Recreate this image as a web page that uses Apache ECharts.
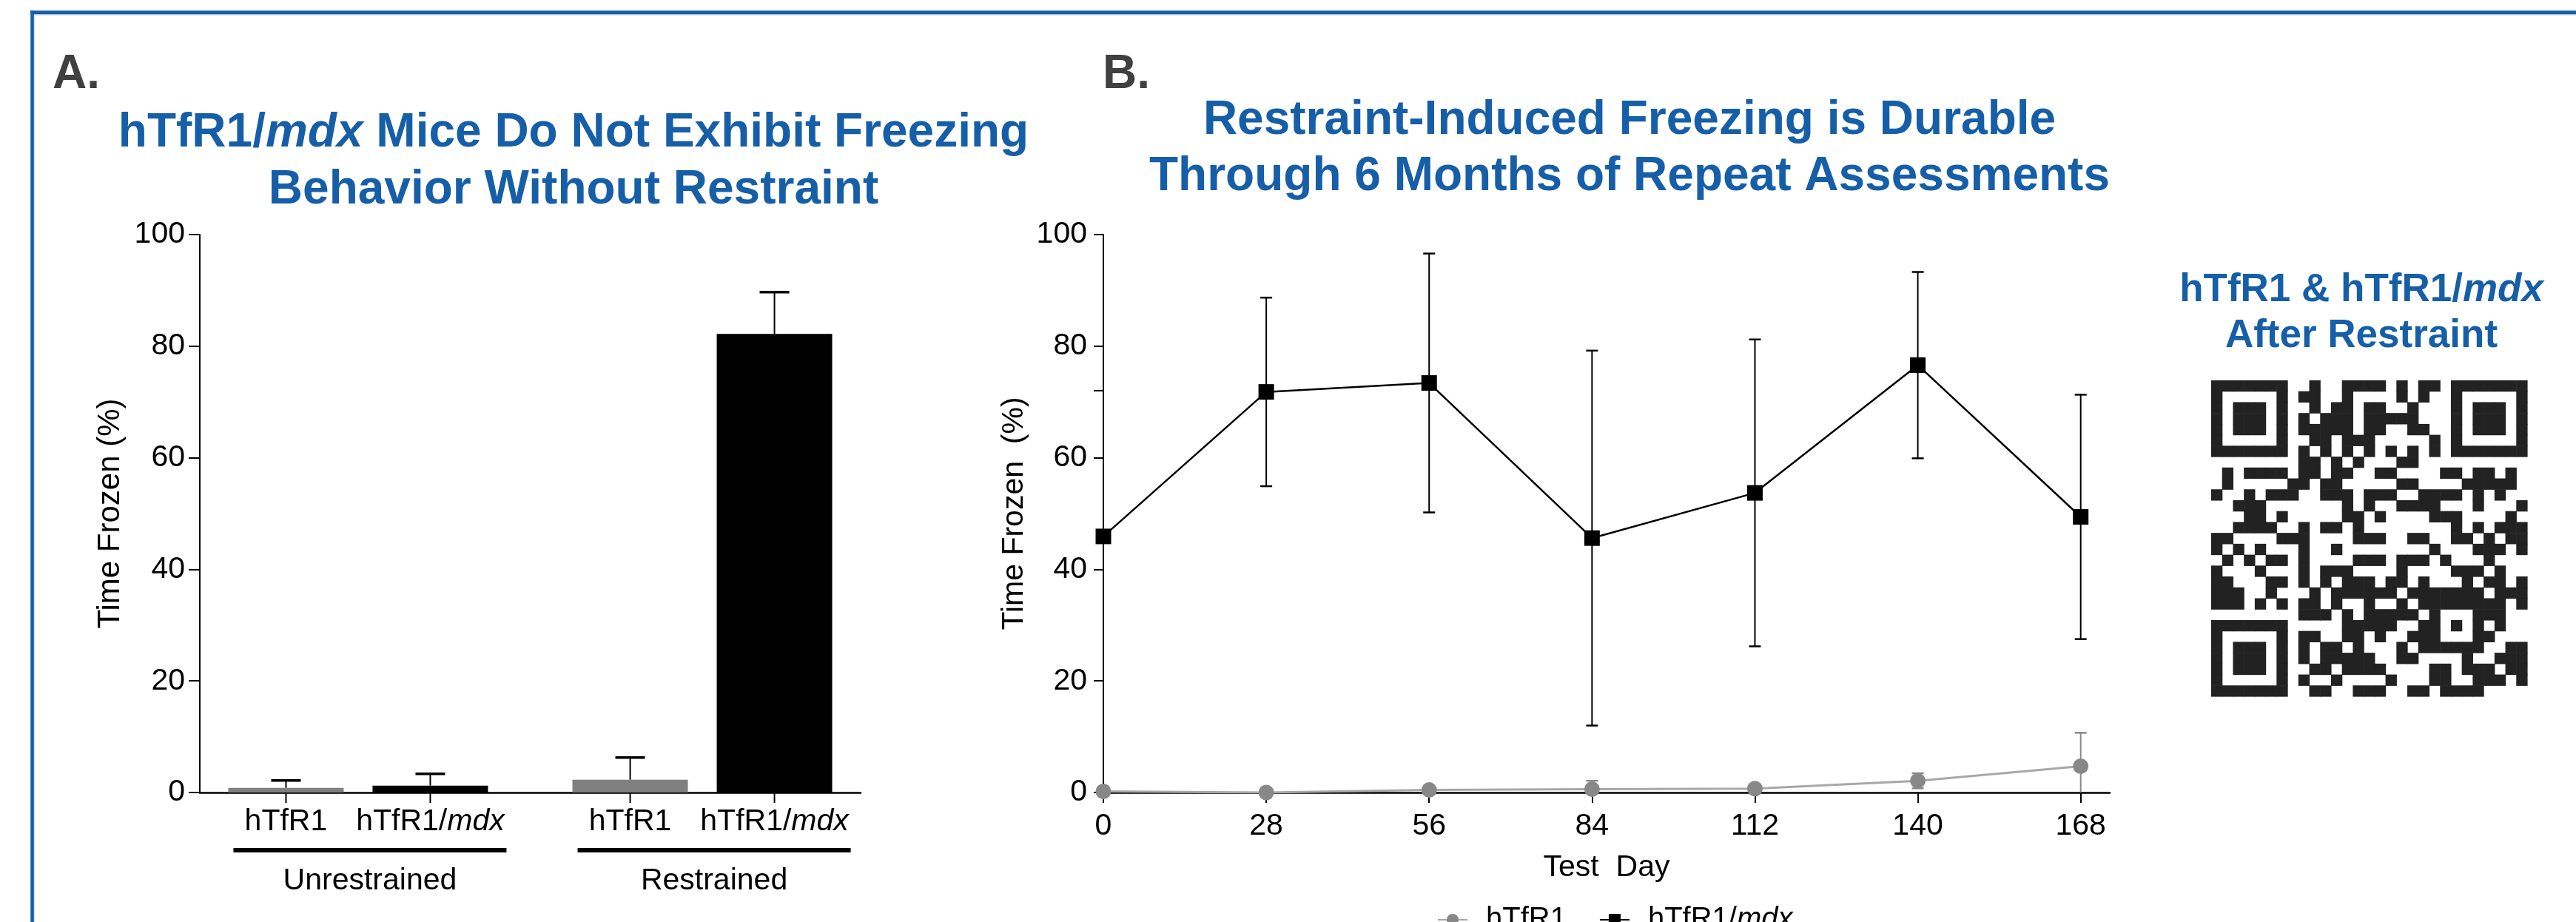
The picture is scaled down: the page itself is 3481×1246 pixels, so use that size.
<!DOCTYPE html>
<html><head><meta charset="utf-8">
<script src="https://cdn.jsdelivr.net/npm/echarts@6/dist/echarts.min.js"></script>
<style>html,body{margin:0;padding:0;background:#fff}#c{width:3481px;height:1246px}</style>
</head><body><div id="c"></div>
<script>
// ---------------- DATA ----------------
const groupCats = ['Unrestrained', 'Restrained'];
const barGenotypes = ['hTfR1', 'hTfR1/mdx'];
const barHTfR1Mean = [0.84, 2.3];
const barHTfR1Sd = [1.33, 3.98];
const barMdxMean = [1.24, 82.2];
const barMdxSd = [2.12, 7.5];

const testDays = [0, 28, 56, 84, 112, 140, 168];
const lineHTfR1Mean = [0.2, 0, 0.45, 0.6, 0.7, 2.1, 4.7];
const lineHTfR1Sd = [0, 0, 0, 1.5, 0, 1.35, 6.0];
const lineMdxMean = [45.9, 71.8, 73.4, 45.6, 53.7, 76.6, 49.4];
const lineMdxSd = [0, 16.9, 23.2, 33.6, 27.5, 16.7, 21.9];

const yTickLabels = [0, 20, 40, 60, 80, 100];
const yTickMarksB = [0, 20, 40, 60, 72, 80, 100];
const xTickLabelsB = [0, 28, 56, 84, 112, 140, 168];

const qrRows = [
'11111110010011110101101111111',
'10000010110010000101001000001',
'10111010010110110010001011101',
'10111010101110111110001011101',
'10111010111110110011001011101',
'10000010011011100000101000001',
'11111110101010101010101111111',
'00000000110101000110000000000',
'01011110110110011000011011010',
'01000001101100000110000111110',
'10010111001110111001111010100',
'00111000000010100111100010001',
'00011010000011010000111000010',
'00111100101101000000001010111',
'11000011100001110011001101011',
'10101000100100000000100011101',
'01010110100001110111010001000',
'10001000101110000100001110100',
'11000110101011101101000101101',
'11100100010111111011111110111',
'11101010110100100101111111101',
'00000000111010111110100011100',
'11111110000011111001101010100',
'10000010110011010011100011000',
'10111010101101000101111110011',
'10111010101111100110000100111',
'10111010011011110000110111011',
'10000010100100001000110011101',
'11111110011001110011011110000'
];

// ---------------- STYLE ----------------
const FONT = '"Liberation Sans", Arial, Helvetica, sans-serif';
const BLUE = '#165fa8';
const BAR_W = 156, BAR_GAP = 39;

// ---------------- BUILD ----------------
const barErrData = [];
groupCats.forEach((g, i) => {
  barErrData.push([i + 1, barHTfR1Mean[i], barHTfR1Sd[i], 0]);
  barErrData.push([i + 1, barMdxMean[i], barMdxSd[i], 1]);
});
const lineErrData = [];
testDays.forEach((d, i) => {
  lineErrData.push([d, lineHTfR1Mean[i], lineHTfR1Sd[i], 0]);
  lineErrData.push([d, lineMdxMean[i], lineMdxSd[i], 1]);
});
const qrData = [];
qrRows.forEach((row, r) => { for (let c = 0; c < row.length; c++) if (row[c] === '1') qrData.push([c, r]); });
const qrIdx = qrRows.map((_, i) => String(i));

function italicMdx(s) { return s.replace('mdx', '{i|mdx}'); }

function renderBarErr(params, api) {
  const x = api.value(0), m = api.value(1), sd = api.value(2), g = api.value(3);
  const off = (g === 0 ? -1 : 1) * (BAR_W + BAR_GAP) / 2;
  const base = api.coord([x, 0]), pm = api.coord([x, m]), pt = api.coord([x, m + sd]);
  const cx = pm[0] + off;
  return { type: 'group', children: [
    { type: 'line', shape: { x1: cx, y1: pm[1], x2: cx, y2: pt[1] }, style: { stroke: '#000', lineWidth: 2 } },
    { type: 'line', shape: { x1: cx - 20, y1: pt[1], x2: cx + 20, y2: pt[1] }, style: { stroke: '#000', lineWidth: 3.5 } },
    { type: 'line', shape: { x1: cx, y1: base[1], x2: cx, y2: base[1] + 14 }, style: { stroke: '#000', lineWidth: 2 } },
    { type: 'text', x: cx, y: base[1] + 19, style: {
      text: italicMdx(barGenotypes[g]), fontSize: 41, fontFamily: FONT, fill: '#000', align: 'center', verticalAlign: 'top',
      rich: { i: { fontStyle: 'italic', fontSize: 41, fontFamily: FONT, fill: '#000' } } } }
  ] };
}

function renderGroup(params, api) {
  const x = api.value(0);
  const p = api.coord([x, 0]);
  const cx = p[0] + 16;
  return { type: 'group', children: [
    { type: 'rect', shape: { x: cx - 184.5, y: p[1] + 75, width: 369, height: 6 }, style: { fill: '#000' } },
    { type: 'text', x: cx, y: p[1] + 99, style: { text: groupCats[params.dataIndex], fontSize: 41, fontFamily: FONT, fill: '#000', align: 'center', verticalAlign: 'top' } }
  ] };
}

function renderLineErr(params, api) {
  const d = api.value(0), m = api.value(1), sd = api.value(2), s = api.value(3);
  if (!(sd > 0)) return { type: 'group', children: [] };
  const lo = Math.max(0, m - sd), hi = m + sd;
  const pl = api.coord([d, lo]), ph = api.coord([d, hi]);
  const col = s === 0 ? '#8a8a8a' : '#000';
  const ch = [
    { type: 'line', shape: { x1: pl[0], y1: pl[1], x2: ph[0], y2: ph[1] }, style: { stroke: col, lineWidth: 2 } },
    { type: 'line', shape: { x1: ph[0] - 8, y1: ph[1], x2: ph[0] + 8, y2: ph[1] }, style: { stroke: col, lineWidth: 2.5 } }
  ];
  if (m - sd > 0) ch.push({ type: 'line', shape: { x1: pl[0] - 8, y1: pl[1], x2: pl[0] + 8, y2: pl[1] }, style: { stroke: col, lineWidth: 2.5 } });
  return { type: 'group', children: ch };
}

function renderQR(params, api) {
  const c = api.coord([api.value(0), api.value(1)]);
  const s = api.size([1, 1]);
  return { type: 'rect', shape: { x: c[0] - s[0] / 2, y: c[1] - s[1] / 2, width: s[0] + 0.6, height: s[1] + 0.6 }, style: { fill: '#222' } };
}

const axisLbl = { fontSize: 41, color: '#000', fontFamily: FONT };
const boldTitle = (size) => ({ fontSize: size, fontWeight: 'bold', color: BLUE, fontFamily: FONT });

const option = {
  animation: false,
  backgroundColor: '#fff',
  textStyle: { fontFamily: FONT },
  graphic: [
    { type: 'rect', shape: { x: 40.5, y: 13.5, width: 3441, height: 7 }, style: { fill: '#a9c1e0' } },
    { type: 'rect', shape: { x: 40.5, y: 13.5, width: 6, height: 1233 }, style: { fill: '#a9c1e0' } },
    { type: 'rect', shape: { x: 41.5, y: 14.7, width: 3440, height: 4.4 }, style: { fill: BLUE } },
    { type: 'rect', shape: { x: 41.5, y: 14.7, width: 4.2, height: 1232 }, style: { fill: BLUE } }
  ],
  title: [
    { text: 'A.', left: 71, top: 69, padding: 0, textStyle: { fontSize: 64, fontWeight: 'bold', color: '#404040', fontFamily: FONT, lineHeight: 64 } },
    { text: 'B.', left: 1490, top: 69, padding: 0, textStyle: { fontSize: 64, fontWeight: 'bold', color: '#404040', fontFamily: FONT, lineHeight: 64 } },
    { text: '{b|hTfR1/}{bi|mdx}{b| Mice Do Not Exhibit Freezing}\n{b|Behavior Without Restraint}', left: 775, top: 142, textAlign: 'center', padding: 0,
      textStyle: { rich: { b: Object.assign(boldTitle(64), { lineHeight: 77 }), bi: Object.assign(boldTitle(64), { fontStyle: 'italic', lineHeight: 77 }) } } },
    { text: '{b|Restraint-Induced Freezing is Durable}\n{b|Through 6 Months of Repeat Assessments}', left: 2202, top: 125, textAlign: 'center', padding: 0,
      textStyle: { rich: { b: Object.assign(boldTitle(64), { lineHeight: 76 }) } } },
    { text: '{b|hTfR1 & hTfR1/}{bi|mdx}\n{b|After Restraint}', left: 3191, top: 361, textAlign: 'center', padding: 0,
      textStyle: { rich: { b: Object.assign(boldTitle(53), { lineHeight: 62 }), bi: Object.assign(boldTitle(53), { fontStyle: 'italic', lineHeight: 62 }) } } }
  ],
  legend: {
    left: 1942, top: 1223, padding: 0, itemWidth: 40, itemHeight: 20, itemGap: 44,
    data: ['hTfR1', 'hTfR1/mdx'],
    formatter: (n) => italicMdx(n),
    textStyle: { fontSize: 40, color: '#000', fontFamily: FONT, padding: [0, 0, 0, 20],
      rich: { i: { fontStyle: 'italic', fontSize: 40, color: '#000', fontFamily: FONT } } }
  },
  grid: [
    { left: 270, top: 317, width: 893, height: 754 },
    { left: 1491, top: 317, width: 1360, height: 754 },
    { left: 2988, top: 514, width: 427, height: 427 }
  ],
  xAxis: [
    { gridIndex: 0, type: 'value', min: 0.54, max: 2.46,
      axisLine: { show: true, onZero: false, lineStyle: { color: '#000', width: 2.5 } },
      axisTick: { show: false }, axisLabel: { show: false }, splitLine: { show: false } },
    { gridIndex: 1, type: 'value', min: 0, max: 173, interval: 28,
      axisLine: { show: true, onZero: false, lineStyle: { color: '#000', width: 2.5 } },
      axisTick: { show: true, length: 14, customValues: xTickLabelsB, lineStyle: { color: '#000', width: 2 } },
      axisLabel: Object.assign({ customValues: xTickLabelsB, margin: 25 }, axisLbl),
      splitLine: { show: false },
      name: 'Test  Day', nameLocation: 'middle', nameGap: 81, nameTextStyle: { fontSize: 41, color: '#000', fontFamily: FONT } },
    { gridIndex: 2, type: 'category', data: qrIdx, show: false }
  ],
  yAxis: [
    { gridIndex: 0, type: 'value', min: 0, max: 100, interval: 20,
      axisLine: { show: true, onZero: false, lineStyle: { color: '#000', width: 2 } },
      axisTick: { show: true, length: 15, lineStyle: { color: '#000', width: 2 } },
      axisLabel: Object.assign({ margin: 20 }, axisLbl), splitLine: { show: false },
      name: 'Time Frozen (%)', nameLocation: 'middle', nameGap: 100, nameTextStyle: { fontSize: 42, color: '#000', fontFamily: FONT } },
    { gridIndex: 1, type: 'value', min: 0, max: 100, interval: 20,
      axisLine: { show: true, onZero: false, lineStyle: { color: '#000', width: 2 } },
      axisTick: { show: true, length: 13, customValues: yTickMarksB, lineStyle: { color: '#000', width: 2 } },
      axisLabel: Object.assign({ margin: 22, customValues: yTickLabels }, axisLbl), splitLine: { show: false },
      name: 'Time Frozen  (%)', nameLocation: 'middle', nameGap: 100, nameTextStyle: { fontSize: 41, color: '#000', fontFamily: FONT } },
    { gridIndex: 2, type: 'category', data: qrIdx, inverse: true, show: false }
  ],
  series: [
    { name: 'A: hTfR1', type: 'bar', xAxisIndex: 0, yAxisIndex: 0, barWidth: BAR_W, barGap: (BAR_GAP / BAR_W * 100) + '%',
      itemStyle: { color: '#808080' }, data: groupCats.map((g, i) => [i + 1, barHTfR1Mean[i]]) },
    { name: 'A: hTfR1/mdx', type: 'bar', xAxisIndex: 0, yAxisIndex: 0, barWidth: BAR_W, barGap: (BAR_GAP / BAR_W * 100) + '%',
      itemStyle: { color: '#000' }, data: groupCats.map((g, i) => [i + 1, barMdxMean[i]]) },
    { name: 'A: errors', type: 'custom', xAxisIndex: 0, yAxisIndex: 0, clip: false, z: 5, renderItem: renderBarErr, data: barErrData },
    { name: 'A: groups', type: 'custom', xAxisIndex: 0, yAxisIndex: 0, clip: false, renderItem: renderGroup, data: groupCats.map((g, i) => [i + 1, 0]) },
    { name: 'B: errors', type: 'custom', xAxisIndex: 1, yAxisIndex: 1, clip: false, z: 2, renderItem: renderLineErr, data: lineErrData },
    { name: 'hTfR1/mdx', type: 'line', xAxisIndex: 1, yAxisIndex: 1, z: 3, symbol: 'rect', symbolSize: 21,
      itemStyle: { color: '#000' }, lineStyle: { color: '#000', width: 2.5 },
      data: testDays.map((d, i) => [d, lineMdxMean[i]]) },
    { name: 'hTfR1', type: 'line', xAxisIndex: 1, yAxisIndex: 1, z: 4, symbol: 'circle', symbolSize: 21,
      itemStyle: { color: '#888888' }, lineStyle: { color: '#a8a8a8', width: 3 },
      data: testDays.map((d, i) => [d, lineHTfR1Mean[i]]) },
    { name: 'QR', type: 'custom', xAxisIndex: 2, yAxisIndex: 2, renderItem: renderQR, data: qrData }
  ]
};

const chart = echarts.init(document.getElementById('c'), null, { renderer: 'canvas' });
chart.setOption(option);
</script>
</body></html>
